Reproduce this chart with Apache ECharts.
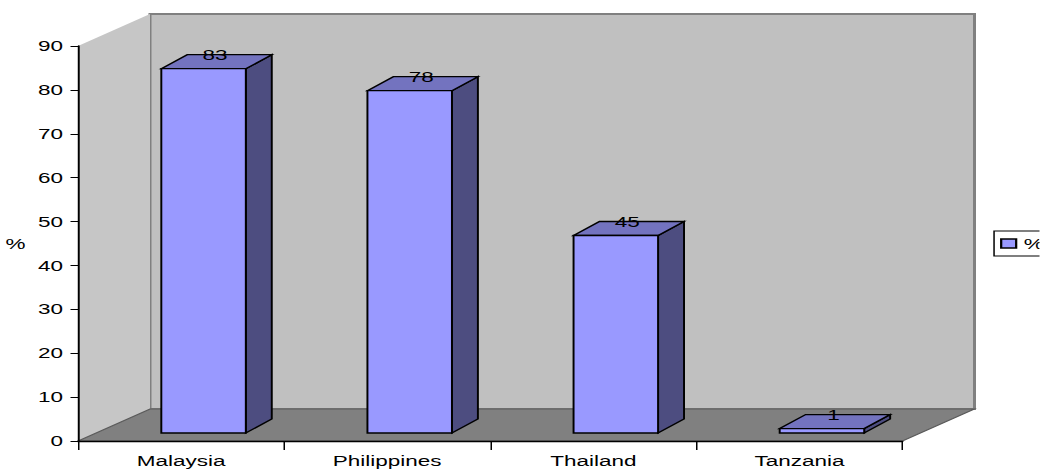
<!DOCTYPE html>
<html>
<head>
<meta charset="utf-8">
<script src="https://cdn.jsdelivr.net/npm/echarts@6/dist/echarts.min.js"></script>
<style>
  html, body { margin: 0; padding: 0; background: #fff; overflow: hidden; }
  /* the chart is laid out narrow and widened horizontally, giving the wide lettering */
  #chart { width: 693.33px; height: 469px; transform: scaleX(1.5); transform-origin: 0 0; }
</style>
</head>
<body>
<div id="chart"></div>
<script>
// Data
const categories = ['Malaysia', 'Philippines', 'Thailand', 'Tanzania'];
const percentValues = [83, 78, 45, 1];
const yTicks = { min: 0, max: 90, interval: 10 };

// 3D look (pixel offsets in layout space)
const WALL_DX = 48, WALL_DY = -32;      // depth of the back wall behind the front plane
const BAR_SHIFT_X = 15, BAR_SHIFT_Y = -8; // bars sit a little way into the room
const BAR_DX = 17.3, BAR_DY = -14;      // bar depth
const BAR_FRAC = 0.41;                  // bar width relative to category band
const FONT = '"Liberation Sans", Arial, sans-serif';

const chart = echarts.init(document.getElementById('chart'), null, { renderer: 'svg' });

function renderRoom(params, api) {
  const cs = params.coordSys;
  const x = cs.x, y = cs.y, w = cs.width, h = cs.height;
  const yb = y + h;
  return {
    type: 'group',
    children: [
      { // back wall
        type: 'rect',
        shape: { x: x + WALL_DX, y: y + WALL_DY, width: w, height: h },
        style: { fill: '#c0c0c0', stroke: '#808080', lineWidth: 2 }
      },
      { // left side wall
        type: 'polygon',
        shape: { points: [[x, y], [x + WALL_DX, y + WALL_DY], [x + WALL_DX, yb + WALL_DY], [x, yb]] },
        style: { fill: '#c6c6c6' }
      },
      { // floor
        type: 'polygon',
        shape: { points: [[x, yb], [x + w, yb], [x + w + WALL_DX, yb + WALL_DY], [x + WALL_DX, yb + WALL_DY]] },
        style: { fill: '#808080', stroke: '#5a5a5a', lineWidth: 1 }
      }
    ]
  };
}

function renderBar(params, api) {
  const idx = api.value(0), v = api.value(1);
  const base = api.coord([idx, 0]);
  const top = api.coord([idx, v]);
  const bw = api.size([1, 0])[0] * BAR_FRAC;
  const x0 = base[0] - bw / 2 + BAR_SHIFT_X, x1 = x0 + bw;
  const yb = base[1] + BAR_SHIFT_Y, yt = top[1] + BAR_SHIFT_Y;
  const edge = { stroke: '#000', lineWidth: 1.3, lineJoin: 'miter' };
  return {
    type: 'group',
    children: [
      { type: 'polygon',
        shape: { points: [[x1, yt], [x1 + BAR_DX, yt + BAR_DY], [x1 + BAR_DX, yb + BAR_DY], [x1, yb]] },
        style: Object.assign({ fill: '#4d4d80' }, edge) },
      { type: 'polygon',
        shape: { points: [[x0, yt], [x0 + BAR_DX, yt + BAR_DY], [x1 + BAR_DX, yt + BAR_DY], [x1, yt]] },
        style: Object.assign({ fill: '#7373bf' }, edge) },
      { type: 'rect',
        shape: { x: x0, y: yt, width: bw, height: yb - yt },
        style: Object.assign({ fill: '#9999ff' }, edge) },
      { type: 'text',
        style: {
          x: (x0 + x1) / 2 + BAR_DX / 2 - 1, y: yt - 14,
          text: String(v), fill: '#000', font: '15px ' + FONT,
          align: 'center', verticalAlign: 'middle'
        } }
    ]
  };
}

chart.setOption({
  animation: false,
  grid: { left: 52, right: 91.33, top: 46, bottom: 28, containLabel: false, outerBoundsMode: 'none' },
  legend: {
    data: ['%'],
    left: 662.7, top: 231,
    orient: 'vertical',
    icon: 'rect',
    itemWidth: 10, itemHeight: 9, itemGap: 4,
    padding: [5, 30, 5, 4],
    borderColor: '#000', borderWidth: 1,
    itemStyle: { color: '#9999ff', borderColor: '#000', borderWidth: 1.5 },
    textStyle: { fontFamily: FONT, fontSize: 15, color: '#000', padding: [0, 0, 0, 0] }
  },
  xAxis: {
    type: 'category',
    data: categories,
    axisLine: { lineStyle: { color: '#000', width: 1.3 } },
    axisTick: { show: true, length: 9, lineStyle: { color: '#000', width: 1 } },
    axisLabel: { color: '#000', fontFamily: FONT, fontSize: 15, margin: 12 },
    splitLine: { show: false }
  },
  yAxis: {
    type: 'value',
    min: yTicks.min, max: yTicks.max, interval: yTicks.interval,
    name: '%',
    nameLocation: 'middle', nameRotate: 0, nameGap: 35,
    nameTextStyle: { color: '#000', fontFamily: FONT, fontSize: 15 },
    axisLine: { show: true, lineStyle: { color: '#000', width: 1.3 } },
    axisTick: { show: true, length: 5, lineStyle: { color: '#000', width: 1 } },
    axisLabel: { color: '#000', fontFamily: FONT, fontSize: 15, margin: 10 },
    splitLine: { show: false }
  },
  series: [
    {
      type: 'custom',
      name: 'room',
      silent: true,
      z: -1,
      renderItem: renderRoom,
      data: [[0, 0]]
    },
    {
      type: 'custom',
      name: '%',
      z: 3,
      itemStyle: { color: '#9999ff' },
      renderItem: renderBar,
      encode: { x: 0, y: 1 },
      data: percentValues.map((v, i) => [i, v])
    }
  ]
});
</script>
</body>
</html>
